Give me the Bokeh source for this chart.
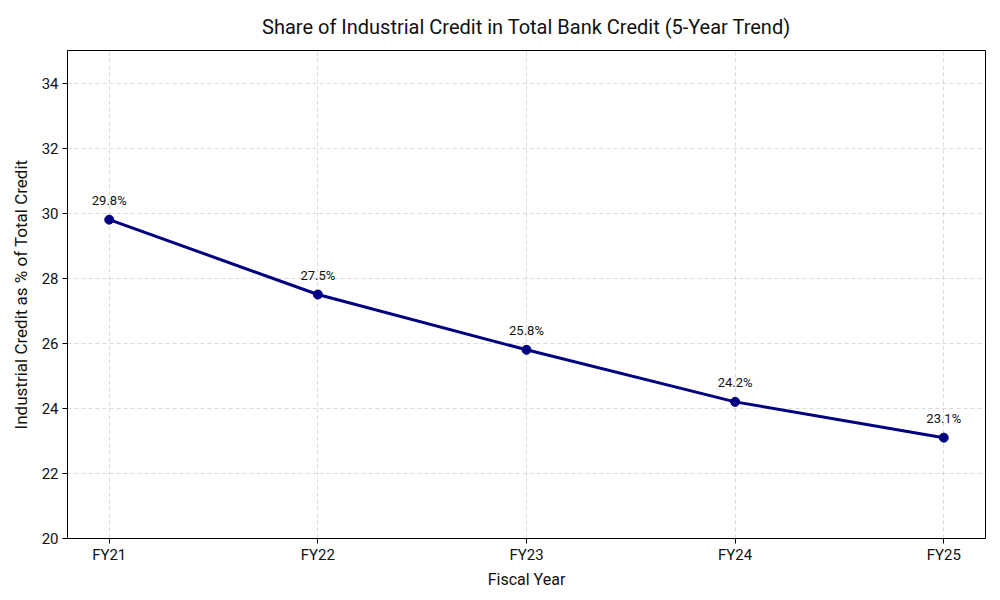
from bokeh.plotting import figure
from bokeh.models import ColumnDataSource, FixedTicker, Range1d, LabelSet
from bokeh.core.properties import value
from bokeh.embed import file_html
from bokeh.resources import INLINE

years = ["FY21", "FY22", "FY23", "FY24", "FY25"]
share = [29.8, 27.5, 25.8, 24.2, 23.1]
y_ticks = [20, 22, 24, 26, 28, 30, 32, 34]

FONT = "Roboto"
NAVY = "#000080"

xs = list(range(len(years)))
src = ColumnDataSource(dict(
    x=xs, y=share, label=[f"{v:.1f}%" for v in share]
))

p = figure(
    width=1000, height=600,
    output_backend="svg", toolbar_location=None,
    x_range=Range1d(-0.2, len(years) - 1 + 0.2),
    y_range=Range1d(20, 35),
    min_border_left=67, min_border_right=15,
    min_border_top=50, min_border_bottom=62,
    title="Share of Industrial Credit in Total Bank Credit (5-Year Trend)",
)

p.title.align = "center"
p.title.text_font = FONT
p.title.text_font_size = "20px"
p.title.text_font_style = "normal"
p.title.text_color = "#111111"
p.title.offset = 0
p.title.standoff = 24

p.outline_line_color = "black"
p.outline_line_width = 1
p.outline_line_alpha = 1

for ax in (p.xaxis[0], p.yaxis[0]):
    ax.axis_line_color = "black"
    ax.major_tick_in = 0
    ax.major_tick_out = 5
    ax.minor_tick_line_color = None
    ax.major_label_text_font = FONT
    ax.major_label_text_font_size = "15px"
    ax.major_label_text_color = "#111111"
    ax.axis_label_text_font = FONT
    ax.axis_label_text_font_size = "16px"
    ax.axis_label_text_font_style = "normal"
    ax.axis_label_text_color = "#111111"

p.xaxis.ticker = FixedTicker(ticks=xs)
p.xaxis.major_label_overrides = {i: y for i, y in enumerate(years)}
p.xaxis.axis_label = "Fiscal Year"
p.xaxis.major_label_standoff = 2
p.xaxis.axis_label_standoff = 3

p.yaxis.ticker = FixedTicker(ticks=y_ticks)
p.yaxis.axis_label = "Industrial Credit as % of Total Credit"
p.yaxis.axis_label_text_font_size = "17px"
p.yaxis.major_label_standoff = 4
p.yaxis.axis_label_standoff = 8

p.grid.grid_line_color = "#b0b0b0"
p.grid.grid_line_alpha = 0.6
p.grid.grid_line_dash = "4 3"
p.grid.grid_line_width = 0.8

p.line("x", "y", source=src, line_color=NAVY, line_width=3)
p.scatter("x", "y", source=src, size=9, fill_color=NAVY, line_color=NAVY)

labels = LabelSet(
    x="x", y="y", text="label", source=src,
    text_align="center", text_baseline="bottom",
    y_offset=12, text_font=value(FONT), text_font_size=value("13px"),
    text_color="#111111",
)
p.add_layout(labels)

open("out.html", "w").write(file_html(p, INLINE))
